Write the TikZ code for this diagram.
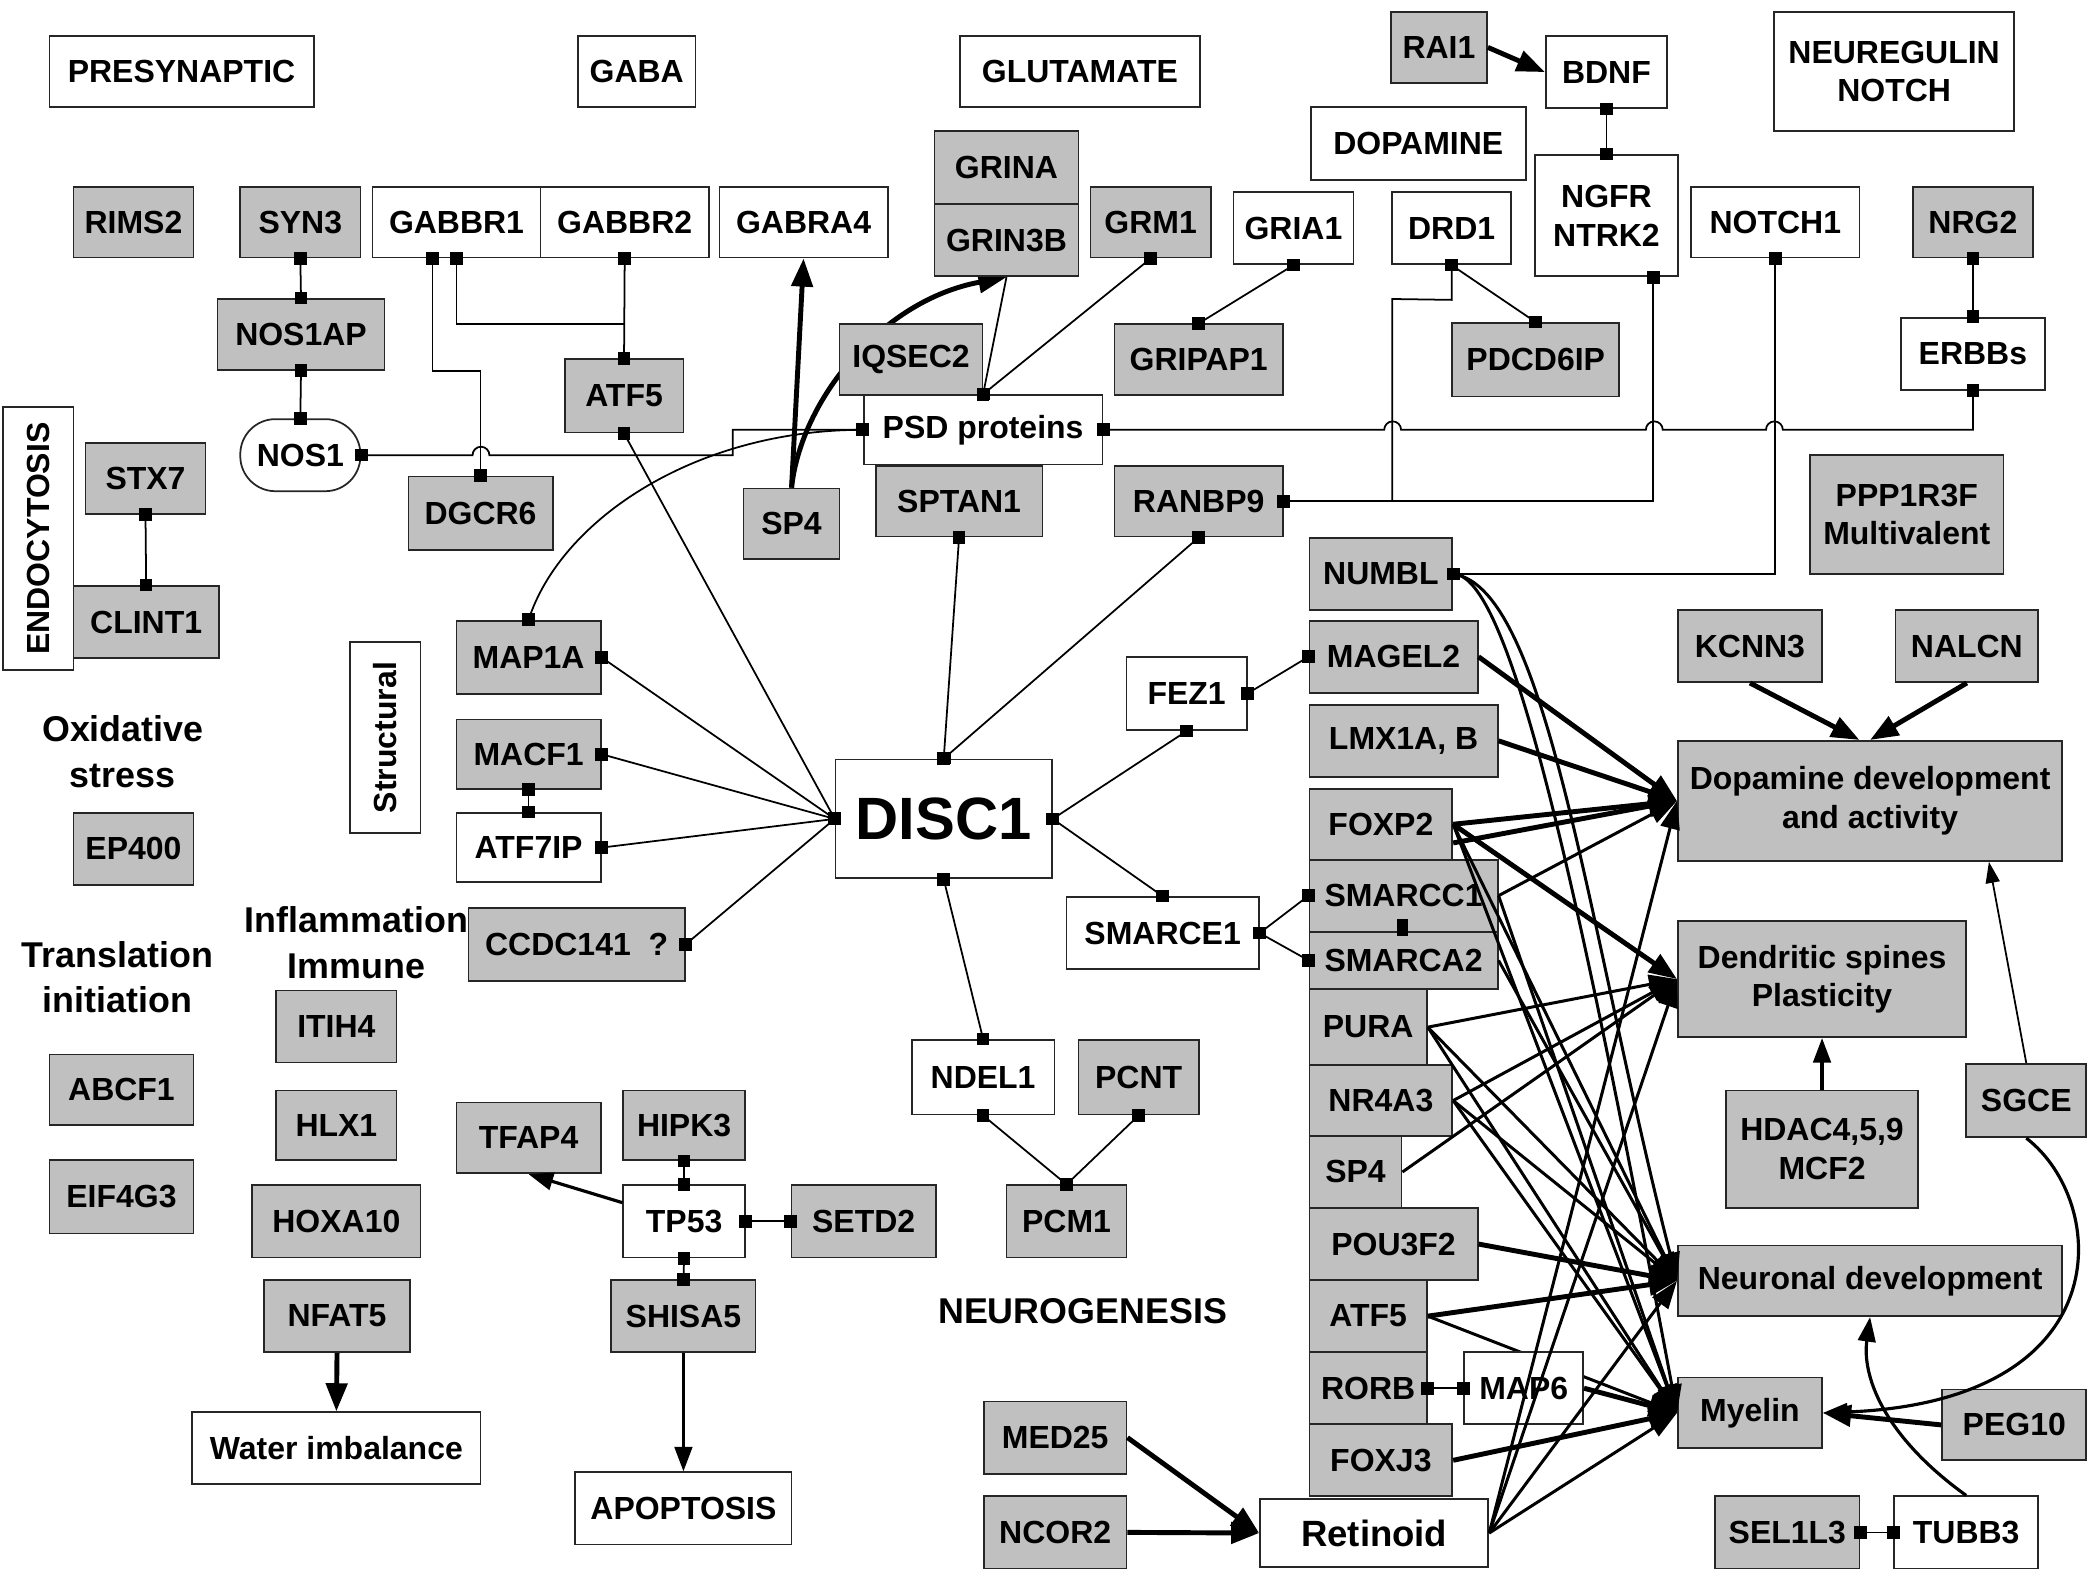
\documentclass[tikz,border=0pt]{standalone}
\usepackage{fontspec}
\setmainfont{Liberation Sans}
\usetikzlibrary{arrows.meta,fit,calc,positioning,decorations.markings}

\definecolor{boxgray}{RGB}{192,192,192}
\pgfdeclarelayer{back}
\pgfsetlayers{back,main}
\newcommand\portsq{\pgftransformresetnontranslations\fill (-1.8pt,-1.8pt) rectangle (1.8pt,1.8pt);}

\tikzset{
  box/.style={draw=black!85, line width=0.5pt, inner sep=0pt},
  gbox/.style={box, fill=boxgray},
  wbox/.style={box, fill=white},
  boxtext/.style={inner sep=0pt, align=center, font=\bfseries\fontsize{9.1}{11}\selectfont},
  txt/.style={label={[boxtext]center:#1}},
  cat/.style={align=center, font=\bfseries\fontsize{10.2}{13}\selectfont},
  link/.style={line width=0.5pt, postaction={decorate, decoration={markings,
    mark=at position 0 with {\portsq}, mark=at position 0.99999 with {\portsq}}}},
  startlink/.style={line width=0.5pt, postaction={decorate, decoration={markings,
    mark=at position 0 with {\portsq}}}},
  endlink/.style={line width=0.5pt, postaction={decorate, decoration={markings,
    mark=at position 0.99999 with {\portsq}}}},
  heavy/.style={line width=1.4pt, -{Triangle[length=8pt,width=6pt]}},
  medium/.style={line width=0.9pt, -{Triangle[length=7pt,width=5pt]}},
  light/.style={line width=0.5pt, -{Triangle[length=6pt,width=4pt]}},
  fx/.style={line width=0.85pt, -{Triangle[length=8pt,width=5.5pt]}},
  fxh/.style={line width=1.4pt, -{Triangle[length=8pt,width=6pt]}},
}

\begin{document}
\begin{tikzpicture}[x=0.013348cm, y=-0.013348cm]
\useasboundingbox (0,0) rectangle (1568,1177);

% top row
\node[wbox, fit={(37,27) (235,80)}, txt=PRESYNAPTIC] (presyn) {};
\node[wbox, fit={(433,27) (521,80)}, txt=GABA] (gaba) {};
\node[wbox, fit={(719,27) (899,80)}, txt=GLUTAMATE] (gluta) {};
\node[gbox, fit={(1042,9) (1114,62)}, txt=RAI1] (rai) {};
\node[wbox, fit={(1158,27) (1249,81)}, txt=BDNF] (bdnf) {};
\node[wbox, fit={(1329,9) (1509,98)}, txt={NEUREGULIN\\NOTCH}] (neureg) {};
\node[wbox, fit={(982,80) (1143,135)}, txt=DOPAMINE] (dopa) {};

% receptors
\node[gbox, fit={(55,140) (145,193)}, txt=RIMS2] (rims) {};
\node[gbox, fit={(180,140) (270,193)}, txt=SYN3] (syn) {};
\node[wbox, fit={(279,140) (405,193)}, txt=GABBR1] (gabbr1) {};
\node[wbox, fit={(405,140) (531,193)}, txt=GABBR2] (gabbr2) {};
\node[wbox, fit={(539,140) (665,193)}, txt=GABRA4] (gabra) {};
\node[gbox, fit={(700,98) (808,153)}, txt=GRINA] (grina) {};
\node[gbox, fit={(700,153) (808,207)}, txt=GRIN3B] (grin) {};
\node[gbox, fit={(817,140) (907,193)}, txt=GRM1] (grm) {};
\node[wbox, fit={(924,144) (1014,198)}, txt=GRIA1] (gria) {};
\node[wbox, fit={(1043,144) (1132,198)}, txt=DRD1] (drd) {};
\node[wbox, fit={(1150,116) (1257,207)}, txt={NGFR\\NTRK2}] (ngfr) {};
\node[wbox, fit={(1267,140) (1393,193)}, txt=NOTCH1] (notch) {};
\node[gbox, fit={(1433,140) (1523,193)}, txt=NRG2] (nrg) {};

% synapse
\node[gbox, fit={(163,224) (288,277)}, txt=NOS1AP] (nosap) {};
\node[gbox, fit={(423,269) (512,324)}, txt=ATF5] (atfa) {};
\node[wbox, rounded corners=10pt, fit={(180,314) (270,368)}, txt=NOS1] (nos) {};
\node[gbox, fit={(306,357) (414,412)}, txt=DGCR6] (dgcr) {};
\node[wbox, fit={(2,305) (55,502)}, label={[boxtext, rotate=90]center:ENDOCYTOSIS}] (endo) {};
\node[gbox, fit={(64,332) (154,385)}, txt=STX7] (stx) {};
\node[gbox, fit={(55,439) (164,493)}, txt=CLINT1] (clint) {};
\node[wbox, fit={(647,296) (826,348)}, txt={PSD proteins}] (psd) {};
\node[gbox, fit={(835,243) (961,296)}, txt=GRIPAP1] (gripap) {};
\node[gbox, fit={(557,366) (629,419)}, txt=SP4] (spa) {};
\node[gbox, fit={(656,349) (781,402)}, txt=SPTAN1] (sptan) {};
\node[gbox, fit={(835,349) (961,402)}, txt=RANBP9] (ranbp) {};
\node[gbox, fit={(1088,242) (1213,297)}, txt=PDCD6IP] (pdcd) {};
\node[wbox, fit={(1424,238) (1532,292)}, txt=ERBBs] (erbb) {};
\node[gbox, fit={(1356,341) (1501,430)}, txt={PPP1R3F\\Multivalent}] (ppp) {};

% structural and left groups
\node[wbox, fit={(262,481) (315,624)}, label={[boxtext, rotate=90]center:Structural}] (struct) {};
\node[gbox, fit={(342,465) (450,520)}, txt=MAP1A] (mapa) {};
\node[gbox, fit={(342,539) (450,591)}, txt=MACF1] (macf) {};
\node[wbox, fit={(342,609) (450,661)}, txt=ATF7IP] (atf7) {};
\node[gbox, fit={(351,680) (513,735)}, txt={CCDC141\ \ ?}] (ccdc) {};
\node[cat] (oxi) at (92,563) {Oxidative\\stress};
\node[gbox, fit={(55,609) (145,663)}, txt=EP400] (ep) {};
\node[cat] (transl) at (88,732) {Translation\\initiation};
\node[cat] (inflam) at (267,706) {Inflammation\\Immune};
\node[gbox, fit={(207,742) (297,796)}, txt=ITIH4] (itih) {};
\node[gbox, fit={(37,790) (145,843)}, txt=ABCF1] (abcf) {};
\node[gbox, fit={(37,869) (145,924)}, txt=EIF4G3] (eif) {};
\node[gbox, fit={(207,817) (297,869)}, txt=HLX1] (hlx) {};
\node[gbox, fit={(189,888) (315,942)}, txt=HOXA10] (hoxa) {};
\node[gbox, fit={(198,959) (307,1013)}, txt=NFAT5] (nfat) {};
\node[wbox, fit={(144,1058) (360,1112)}, txt={Water imbalance}] (water) {};
\node[gbox, fit={(342,826) (450,879)}, txt=TFAP4] (tfap) {};
\node[gbox, fit={(467,817) (558,869)}, txt=HIPK3] (hipk) {};
\node[wbox, fit={(467,888) (558,942)}, txt=TP53] (tp) {};
\node[gbox, fit={(593,888) (701,942)}, txt=SETD2] (setd) {};
\node[gbox, fit={(458,959) (566,1013)}, txt=SHISA5] (shisa) {};
\node[wbox, fit={(431,1103) (593,1157)}, txt=APOPTOSIS] (apop) {};

% centre
\node[wbox, fit={(626,569) (788,658)},
  label={[boxtext, font=\bfseries\fontsize{17}{20}\selectfont]center:DISC1}] (disc) {};
\node[wbox, fit={(844,492) (934,547)}, txt=FEZ1] (fez) {};
\node[wbox, fit={(799,672) (943,726)}, txt=SMARCE1] (smarce) {};
\node[wbox, fit={(683,779) (790,835)}, txt=NDEL1] (ndel) {};
\node[gbox, fit={(808,779) (898,835)}, txt=PCNT] (pcnt) {};
\node[gbox, fit={(754,888) (844,942)}, txt=PCM1] (pcm) {};
\node[cat] (neurog) at (811,982) {NEUROGENESIS};
\node[gbox, fit={(737,1050) (844,1104)}, txt=MED25] (med) {};
\node[gbox, fit={(737,1121) (844,1175)}, txt=NCOR2] (ncor) {};
\node[wbox, fit={(944,1123) (1115,1174)},
  label={[boxtext, font=\bfseries\fontsize{10.4}{12}\selectfont]center:Retinoid}] (retin) {};

% regulator column
\node[gbox, fit={(981,403) (1088,457)}, txt=NUMBL] (numbl) {};
\node[gbox, fit={(981,465) (1107,519)}, txt=MAGEL2] (magel) {};
\node[gbox, fit={(981,528) (1122,582)}, txt={LMX1A, B}] (lmx) {};
\node[gbox, fit={(981,591) (1088,644)}, txt=FOXP2] (foxp) {};
\node[gbox, fit={(981,644) (1122,698)}, txt=SMARCC1] (smcc) {};
\node[gbox, fit={(981,698) (1122,741)}, txt=SMARCA2] (smca) {};
\node[gbox, fit={(981,741) (1069,798)}, txt=PURA] (pura) {};
\node[gbox, fit={(981,798) (1088,851)}, txt=NR4A3] (nra) {};
\node[gbox, fit={(981,851) (1050,905)}, txt=SP4] (spb) {};
\node[gbox, fit={(981,905) (1107,959)}, txt=POU3F2] (pou) {};
\node[gbox, fit={(981,959) (1069,1013)}, txt=ATF5] (atfb) {};
\node[gbox, fit={(981,1013) (1069,1067)}, txt=RORB] (rorb) {};
\node[gbox, fit={(981,1067) (1088,1121)}, txt=FOXJ3] (foxj) {};

% outcomes
\node[gbox, fit={(1257,457) (1365,511)}, txt=KCNN3] (kcnn) {};
\node[gbox, fit={(1420,457) (1527,511)}, txt=NALCN] (nalcn) {};
\node[gbox, fit={(1257,555) (1545,645)}, txt={Dopamine development\\and activity}] (dopdev) {};
\node[gbox, fit={(1257,690) (1473,777)}, txt={Dendritic spines\\Plasticity}] (dend) {};
\node[gbox, fit={(1293,817) (1437,905)}, txt={HDAC4,5,9\\MCF2}] (hdac) {};
\node[gbox, fit={(1473,797) (1563,852)}, txt=SGCE] (sgce) {};
\node[gbox, fit={(1257,933) (1545,986)}, txt={Neuronal development}] (neur) {};
\node[gbox, fit={(1257,1032) (1365,1085)}, txt=Myelin] (mye) {};
\node[gbox, fit={(1455,1041) (1563,1094)}, txt=PEG10] (peg) {};
\node[gbox, fit={(1285,1121) (1393,1175)}, txt=SEL1L3] (sel) {};
\node[wbox, fit={(1419,1121) (1527,1175)}, txt=TUBB3] (tubb) {};

% lines hidden behind boxes
\begin{pgfonlayer}{back}
\draw[heavy] (spa.north) .. controls (600,300) and (660,225) .. (grin.south);
\draw[fx] (atfb.east) -- (mye.west);
\end{pgfonlayer}
\node[gbox, fit={(629,243) (736,296)}, txt=IQSEC2] (iqsec) {};
\node[wbox, fit={(1097,1013) (1186,1067)}, txt=MAP6] (map6) {};

% synaptic links
\draw[link] (syn.south) -- (nosap.north);
\draw[link] (nosap.south) -- (nos.north);
\draw[link] (stx.south) -- (clint.north);
\draw[link] (gabbr2.south) -- (atfa.north);
\draw[startlink] (gabbr1.south) -- ++(0,49) -- ($(gabbr2.south)+(0,49)$);
\draw[link] ($(gabbr1.south)+(-18,0)$) -- ++(0,84) -| (dgcr.north);
\draw[link] (nos.east) -- (354,341) arc[start angle=180,end angle=0,radius=2.4pt]
  -- (549,341) -- (549,322) -- (psd.west);
\draw[link] (mapa.north) .. controls (420,390) and (520,322) .. (psd.west);
\draw[link] (psd.east) -- (1037,322) arc[start angle=180,end angle=0,radius=2.4pt]
  -- (1233,322) arc[start angle=180,end angle=0,radius=2.4pt]
  -- (1323,322) arc[start angle=180,end angle=0,radius=2.4pt]
  -- (1478,322) -- (erbb.south);
\draw[link] (grm.south) -- (psd.north);
\draw[endlink] (grin.south) -- (psd.north);
\draw[link] (gria.south) -- (gripap.north);
\draw[link] (drd.south) -- (pdcd.north);
\draw[link] (ranbp.east) -| ($(ngfr.south)+(35,0)$);
\draw[startlink] (drd.south) -- ++(0,26) -- (1043,224) -- (1043,375.5);
\draw[link] (bdnf.south) -- (ngfr.north);
\draw[link] (nrg.south) -- (erbb.north);
\draw[link] (notch.south) |- (numbl.east);

% DISC1 interactions
\draw[link] (mapa.east) -- (disc.west);
\draw[link] (macf.east) -- (disc.west);
\draw[link] (macf.south) -- (atf7.north);
\draw[link] (atf7.east) -- (disc.west);
\draw[link] (ccdc.east) -- (disc.west);
\draw[link] (atfa.south) -- (disc.west);
\draw[link] (sptan.south) -- (disc.north);
\draw[link] (ranbp.south) -- (disc.north);
\draw[link] (disc.east) -- (fez.south);
\draw[link] (fez.east) -- (magel.west);
\draw[link] (disc.east) -- (smarce.north);
\draw[link] (smarce.east) -- (smcc.west);
\draw[link] (smarce.east) -- (smca.west);
\draw[line width=3pt] ($(smcc.south)+(-1,-10)$) -- ($(smca.north)+(-1,4)$);
\draw[link] (disc.south) -- (ndel.north);
\draw[link] (ndel.south) -- (pcm.north);
\draw[link] (pcnt.south) -- (pcm.north);
\draw[link] (hipk.south) -- (tp.north);
\draw[link] (tp.south) -- (shisa.north);
\draw[link] (tp.east) -- (setd.west);
\draw[link] (rorb.east) -- (map6.west);
\draw[link] (sel.east) -- (tubb.west);

% arrows
\draw[heavy] (rai.east) -- (bdnf.west);
\draw[heavy] (spa.north) -- (gabra.south);
\draw[heavy] (nfat.south) -- (water.north);
\draw[medium] (shisa.south) -- (apop.north);
\draw[medium] ($(tp.west)+(0,-14)$) -- (tfap.south);
\draw[heavy] (med.east) -- (retin.west);
\draw[heavy] (ncor.east) -- (retin.west);
\draw[heavy] (kcnn.south) -- ($(dopdev.north)+(-8,0)$);
\draw[heavy] (nalcn.south) -- (dopdev.north);
\draw[medium] (hdac.north) -- (dend.south);
\draw[light] (sgce.north) -- ($(dopdev.south)+(89,0)$);
\draw[medium] (sgce.south) .. controls (1580,900) and (1590,1050) .. (mye.east);
\draw[medium] (tubb.north) .. controls (1410,1075) and (1395,1030) .. (neur.south);
\draw[heavy] (peg.west) -- (mye.east);

% regulators to outcomes
\draw[fx] (numbl.east) .. controls (1160,440) and (1190,700) .. (neur.west);
\draw[fx] (numbl.east) .. controls (1130,430) and (1180,650) .. (mye.west);
\draw[fxh] (magel.east) -- (dopdev.west);
\draw[fxh] (lmx.east) -- (dopdev.west);
\draw[fxh] (foxp.east) -- (dopdev.west);
\draw[fxh] ($(foxp.east)+(0,14)$) -- (dopdev.west);
\draw[fxh] (foxp.east) -- (dend.west);
\draw[fx] (foxp.east) -- (neur.west);
\draw[fx] (foxp.east) -- (mye.west);
\draw[fx] (smcc.east) -- (dopdev.west);
\draw[fx] (smcc.east) -- (mye.west);
\draw[fx] (smca.east) -- (neur.west);
\draw[fx] (pura.east) -- (dend.west);
\draw[fx] (pura.east) -- (neur.west);
\draw[fx] (pura.east) -- (mye.west);
\draw[fx] (nra.east) -- (dend.west);
\draw[fx] (nra.east) -- (neur.west);
\draw[fx] (nra.east) -- (mye.west);
\draw[fx] (spb.east) -- (dend.west);
\draw[fxh] (pou.east) -- (neur.west);
\draw[fxh] (atfb.east) -- (neur.west);
\draw[fxh] (map6.east) -- (mye.west);
\draw[fxh] (foxj.east) -- (mye.west);
\draw[fx] (retin.east) -- (dopdev.west);
\draw[fx] (retin.east) -- (dend.west);
\draw[fx] (retin.east) -- (neur.west);
\draw[fx] (retin.east) -- (mye.west);
\end{tikzpicture}
\end{document}
